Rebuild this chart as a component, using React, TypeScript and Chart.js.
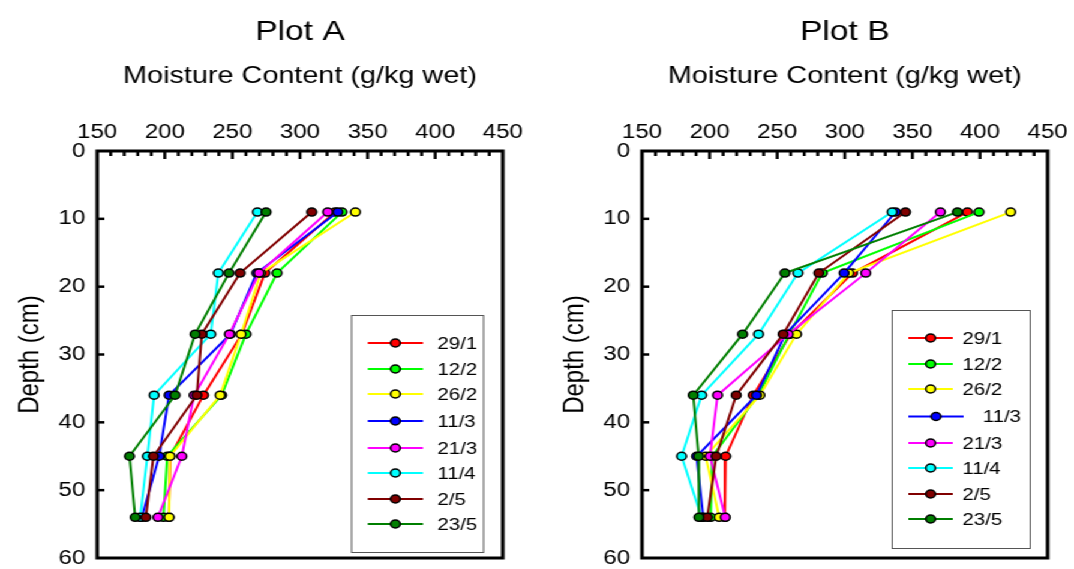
import React, { useEffect, useRef } from "react";
import { Chart, registerables } from "chart.js";

Chart.register(...registerables);

// ---------- data ----------
const depths = [9, 18, 27, 36, 45, 54];
const seriesLabels = ["29/1", "12/2", "26/2", "11/3", "21/3", "11/4", "2/5", "23/5"];
const seriesColors = ["#FF0000", "#00FF00", "#FFFF00", "#0000FF", "#FF00FF", "#00FFFF", "#800000", "#007F00"];
const xTicks = [150, 200, 250, 300, 350, 400, 450];
const xMinorTicks = [160, 170, 180, 190, 210, 220, 230, 240, 260, 270, 280, 290, 310, 320, 330, 340, 360, 370, 380, 390, 410, 420, 430, 440];
const yTicks = [0, 10, 20, 30, 40, 50, 60];

// Plot A
const plotA_2901 = [326, 274, 257, 228.6, 204, 203];
const plotA_1202 = [331, 283, 260, 242, 201.8, 199];
const plotA_2602 = [341, 271, 256.4, 240.9, 203.8, 203.2];
const plotA_1103 = [328, 268, 248.5, 203.2, 195.8, 183];
const plotA_2103 = [320.5, 269.7, 247.8, 221.7, 212.6, 194.9];
const plotA_1104 = [268.5, 239.6, 234, 192.1, 187.1, 181.8];
const plotA_0205 = [308.7, 255.7, 227.4, 223.7, 191.6, 186];
const plotA_2305 = [274.9, 247.5, 222.4, 207.6, 173.9, 178.1];

// Plot B
const plotB_2901 = [390.7, 305.7, 260, 232.3, 211.9, 211.3];
const plotB_1202 = [399.3, 283.3, 259, 236, 202, 200.8];
const plotB_2602 = [422.7, 303, 264.3, 237.2, 197.1, 207.1];
const plotB_1103 = [337.5, 299.5, 256, 234.7, 190.4, 195.3];
const plotB_2103 = [370.7, 315.5, 258.1, 205.9, 200.3, 211.6];
const plotB_1104 = [335, 265.3, 236.2, 194.1, 179.3, 194];
const plotB_0205 = [344.9, 280.8, 254.4, 219.7, 204.9, 198.3];
const plotB_2305 = [383.3, 255.7, 224.4, 187.9, 191.9, 192.1];

const plotASeries = [plotA_2901, plotA_1202, plotA_2602, plotA_1103, plotA_2103, plotA_1104, plotA_0205, plotA_2305];
const plotBSeries = [plotB_2901, plotB_1202, plotB_2602, plotB_1103, plotB_2103, plotB_1104, plotB_0205, plotB_2305];

// ---------- styling ----------
const FONT = "'Liberation Sans', Arial, Helvetica, sans-serif";
const STRETCH = 1.2;
const rowYs = [28, 54, 79, 106, 133, 158, 184, 209];

const legendA = {
  right: 16.5, bottom: 6, width: 110, height: 237,
  rows: rowYs.map((y) => ({ y, x0: 14, x1: 60, m: 37, t: 72 })),
};
const legendB = {
  right: 15, bottom: 10, width: 115, height: 238,
  rows: rowYs.map((y, i) =>
    i === 3 ? { y: y + 0.5, x0: 14, x1: 60, m: 37, t: 76 } : { y, x0: 14, x1: 51, m: 32.5, t: 59 }
  ),
};

const framePlugin = {
  id: "frameTicks",
  afterDatasetsDraw(chart: any) {
    const { ctx, chartArea: ca, scales } = chart;
    ctx.save();
    ctx.strokeStyle = "#000";
    ctx.lineCap = "butt";
    ctx.lineWidth = 2.5;
    const drawX = (v: number, len: number) => {
      const px = scales.x.getPixelForValue(v);
      ctx.beginPath();
      ctx.moveTo(px, ca.top);
      ctx.lineTo(px, ca.top + len);
      ctx.stroke();
    };
    xMinorTicks.forEach((v) => drawX(v, 5));
    xTicks.slice(1, -1).forEach((v) => drawX(v, 8));
    yTicks.slice(1, -1).forEach((v) => {
      const py = scales.y.getPixelForValue(v);
      ctx.beginPath();
      ctx.moveTo(ca.left, py);
      ctx.lineTo(ca.left + 6, py);
      ctx.stroke();
    });
    ctx.lineWidth = 3;
    ctx.strokeRect(ca.left, ca.top, ca.right - ca.left, ca.bottom - ca.top);
    ctx.restore();
  },
};

const boxLegendPlugin = {
  id: "boxLegend",
  afterDraw(chart: any, _args: any, opts: any) {
    if (!opts || !opts.rows) return;
    const { ctx, chartArea: ca } = chart;
    const bx = ca.right - opts.right - opts.width;
    const by = ca.bottom - opts.bottom - opts.height;
    ctx.save();
    ctx.fillStyle = "#fff";
    ctx.fillRect(bx, by, opts.width, opts.height);
    ctx.strokeStyle = "#555";
    ctx.lineWidth = 1;
    ctx.strokeRect(bx + 0.5, by + 0.5, opts.width, opts.height);
    chart.data.datasets.forEach((ds: any, i: number) => {
      const r = opts.rows[i];
      const y = by + r.y;
      ctx.strokeStyle = ds.borderColor;
      ctx.lineWidth = 2;
      ctx.beginPath();
      ctx.moveTo(bx + r.x0, y);
      ctx.lineTo(bx + r.x1, y);
      ctx.stroke();
      ctx.beginPath();
      ctx.arc(bx + r.m, y, 4, 0, Math.PI * 2);
      ctx.fillStyle = ds.pointBackgroundColor;
      ctx.fill();
      ctx.strokeStyle = "#000";
      ctx.lineWidth = 1.5;
      ctx.stroke();
      ctx.fillStyle = "#000";
      ctx.font = `17px ${FONT}`;
      ctx.textAlign = "left";
      ctx.textBaseline = "middle";
      ctx.fillText(ds.label, bx + r.t, y + 1);
    });
    ctx.restore();
  },
};

function PlotChart(props: { title: string; series: number[][]; legend: any; rightPad: number }) {
  const ref = useRef<HTMLCanvasElement | null>(null);
  useEffect(() => {
    if (!ref.current) return;
    const datasets = props.series.map((vals, i) => ({
      label: seriesLabels[i],
      data: depths.map((d, j) => ({ x: vals[j], y: d })),
      borderColor: seriesColors[i],
      backgroundColor: seriesColors[i],
      pointBackgroundColor: seriesColors[i],
      pointBorderColor: "#000",
      pointBorderWidth: 1.5,
      pointRadius: 4,
      borderWidth: 2,
      showLine: true,
      tension: 0,
      order: seriesLabels.length - i,
    }));
    const chart = new Chart(ref.current, {
      type: "scatter",
      data: { datasets },
      plugins: [framePlugin, boxLegendPlugin],
      options: {
        responsive: true,
        maintainAspectRatio: false,
        animation: false,
        events: [],
        layout: { padding: { left: 0, right: props.rightPad, top: 0, bottom: 11 } },
        plugins: {
          legend: { display: false },
          tooltip: { enabled: false },
          title: {
            display: true,
            text: props.title,
            color: "#000",
            fullSize: false,
            font: { family: FONT, size: 28, weight: "normal" },
            padding: { top: 15.2, bottom: 0 },
          },
          boxLegend: props.legend,
        } as any,
        scales: {
          x: {
            type: "linear",
            position: "top",
            min: 150,
            max: 450,
            afterBuildTicks: (s: any) => {
              s.ticks = xTicks.map((v) => ({ value: v }));
            },
            afterFit: (s: any) => {
              s.height = 102.2;
              s.paddingLeft = 0;
              s.paddingRight = 0;
            },
            ticks: {
              color: "#000",
              font: { family: FONT, size: 20 },
              padding: 7,
              maxRotation: 0,
              autoSkip: false,
            },
            grid: { display: false, drawTicks: false },
            border: { display: false },
            title: {
              display: true,
              text: "Moisture Content (g/kg wet)",
              color: "#000",
              font: { family: FONT, size: 24 },
              padding: { top: 12.8, bottom: 0 },
            },
          },
          y: {
            type: "linear",
            reverse: true,
            min: 0,
            max: 60,
            afterBuildTicks: (s: any) => {
              s.ticks = yTicks.map((v) => ({ value: v }));
            },
            afterFit: (s: any) => {
              s.width = 81;
              s.paddingTop = 0;
              s.paddingBottom = 0;
            },
            ticks: {
              color: "#000",
              font: { family: FONT, size: 20 },
              padding: 10,
              autoSkip: false,
            },
            grid: { display: false, drawTicks: false },
            border: { display: false },
            title: {
              display: true,
              text: "Depth (cm)",
              color: "#000",
              font: { family: FONT, size: 24 },
              padding: { top: 10.6, bottom: 0 },
            },
          },
        },
      } as any,
    });
    return () => chart.destroy();
  }, []);
  return <canvas ref={ref} />;
}

export default function App() {
  return (
    <div
      style={{
        position: "fixed",
        left: 0,
        top: 0,
        width: 895,
        height: 569,
        background: "#fff",
        transform: `scaleX(${STRETCH})`,
        transformOrigin: "0 0",
      }}
    >
      <div style={{ position: "absolute", left: 0, top: 0, width: 454, height: 569 }}>
        <PlotChart title="Plot A" series={plotASeries} legend={legendA} rightPad={35} />
      </div>
      <div style={{ position: "absolute", left: 454, top: 0, width: 441, height: 569 }}>
        <PlotChart title="Plot B" series={plotBSeries} legend={legendB} rightPad={22} />
      </div>
    </div>
  );
}
